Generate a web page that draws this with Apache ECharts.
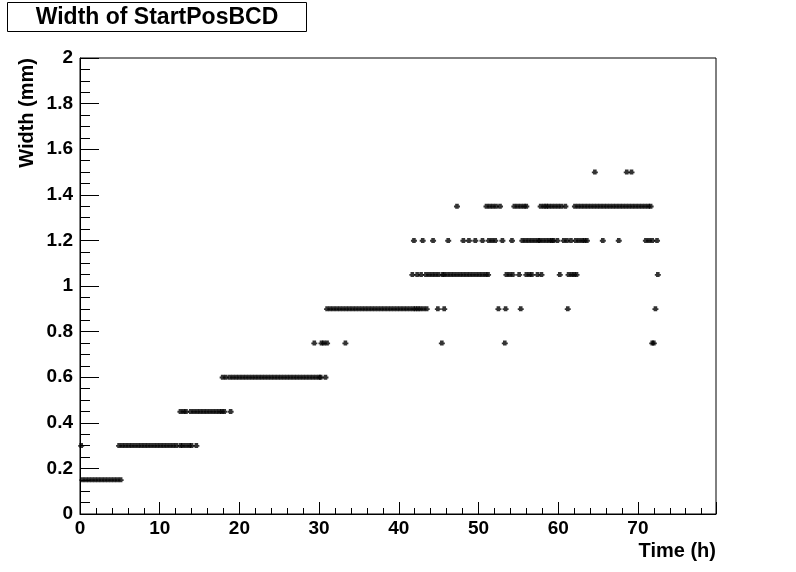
<!DOCTYPE html>
<html>
<head>
<meta charset="utf-8">
<script src="https://cdn.jsdelivr.net/npm/echarts@6/dist/echarts.min.js"></script>
<style>html,body{margin:0;padding:0;background:#fff}#c{width:796px;height:572px}</style>
</head>
<body>
<div id="c"></div>
<script>
// Width levels (mm) and the times (h) at which each level was measured
const levels = [0.15, 0.3, 0.45, 0.6, 0.75, 0.9, 1.05, 1.2, 1.35, 1.5];
const t015 = [0.3,0.7,1.1,1.5,1.9,2.3,2.7,3.1,3.5,3.9,4.3,4.7,5.1];
const t030 = [0.15,4.9,5.3,5.7,6.1,6.5,6.9,7.3,7.7,8.1,8.5,8.9,9.3,9.7,10.1,10.5,10.9,11.3,11.7,12.1,12.6,12.9,13.3,13.7,14.0,14.6];
const t045 = [12.6,13.0,13.3,13.9,14.3,14.7,15.1,15.5,15.9,16.3,16.7,17.1,17.5,17.8,18.1,18.9];
const t060 = [17.9,18.3,18.8,19.2,19.6,20.0,20.4,20.8,21.2,21.6,22.0,22.4,22.8,23.2,23.6,24.0,24.4,24.8,25.2,25.6,26.0,26.4,26.8,27.2,27.6,28.0,28.4,28.8,29.2,29.6,30.0,30.2,30.8];
const t075 = [29.4,30.3,30.6,31.0,33.3,45.4,53.3,71.8,72.0];
const t090 = [31.0,31.4,31.8,32.2,32.6,33.0,33.4,33.8,34.2,34.6,35.0,35.4,35.8,36.2,36.6,37.0,37.4,37.8,38.2,38.6,39.0,39.4,39.8,40.2,40.6,41.0,41.4,41.8,42.1,42.4,42.7,43.1,43.5,44.9,45.7,52.5,53.4,55.3,61.2,72.2];
const t105 = [41.7,42.3,42.8,43.4,43.8,44.2,44.6,45.0,45.5,45.7,46.1,46.5,46.9,47.3,47.7,48.1,48.5,48.9,49.3,49.7,50.1,50.5,50.9,51.2,53.5,53.9,54.3,55.1,56.0,56.4,56.7,57.4,57.9,60.2,61.3,61.7,62.0,62.3,72.5];
const t120 = [41.9,43.0,44.3,46.2,48.1,48.8,49.6,50.5,51.3,51.7,52.1,53.0,54.2,55.5,55.9,56.3,56.7,57.1,57.5,57.7,58.1,58.5,58.9,59.2,59.4,59.9,60.7,61.1,61.6,62.2,62.6,63.0,63.3,63.6,65.6,67.6,71.0,71.4,71.8,72.4];
const t135 = [47.3,51.0,51.4,51.8,52.2,52.7,54.5,54.9,55.3,55.7,56.0,57.8,58.2,58.5,58.8,59.2,59.6,60.0,60.4,60.9,62.1,62.5,62.9,63.3,63.7,64.1,64.5,64.9,65.3,65.7,66.1,66.5,66.9,67.3,67.7,68.1,68.5,68.9,69.3,69.7,70.1,70.5,70.9,71.3,71.6];
const t150 = [64.6,68.6,69.2];
const timesByLevel = [t015, t030, t045, t060, t075, t090, t105, t120, t135, t150];
const xTickLabels = ['0','10','20','30','40','50','60','70'];

const points = [];
timesByLevel.forEach((arr, i) => arr.forEach(t => points.push([t, levels[i]])));

const FONT = 'Liberation Sans';
const chart = echarts.init(document.getElementById('c'), null, {renderer: 'canvas'});
chart.setOption({
  animation: false,
  backgroundColor: '#ffffff',
  grid: {left: 80, right: 80, top: 58, bottom: 58, show: true, borderColor: '#000', borderWidth: 1, backgroundColor: 'transparent'},
  xAxis: {
    type: 'value', min: 0, max: 79.8, interval: 10,
    axisLine: {show: true, onZero: false, lineStyle: {color: '#000', width: 1}},
    axisTick: {show: true, inside: true, length: 12, lineStyle: {color: '#000'}},
    minorTick: {show: true, splitNumber: 5, length: 6, lineStyle: {color: '#000'}},
    splitLine: {show: false},
    axisLabel: {color: '#000', fontFamily: FONT, fontWeight: 'bold', fontSize: 19, margin: 5,
      formatter: v => { const s = String(Math.round(v)); return (Math.abs(v - Math.round(v)) < 1e-6 && xTickLabels.includes(s)) ? s : ''; }}
  },
  yAxis: {
    type: 'value', min: 0, max: 2, interval: 0.2,
    axisLine: {show: true, onZero: false, lineStyle: {color: '#000', width: 1}},
    axisTick: {show: true, inside: true, length: 19, lineStyle: {color: '#000'}},
    minorTick: {show: true, splitNumber: 4, length: 10, lineStyle: {color: '#000'}},
    splitLine: {show: false},
    axisLabel: {color: '#000', fontFamily: FONT, fontWeight: 'bold', fontSize: 19, margin: 7}
  },
  graphic: [
    {type: 'rect', shape: {x: 7.5, y: 2.5, width: 299, height: 29}, style: {fill: '#fff', stroke: '#000', lineWidth: 1}},
    {type: 'text', x: 157, y: 18, style: {text: 'Width of StartPosBCD', font: 'bold 23px "Liberation Sans"', fill: '#000', textAlign: 'center', textVerticalAlign: 'middle'}},
    {type: 'text', x: 716, y: 551, style: {text: 'Time (h)', font: 'bold 20px "Liberation Sans"', fill: '#000', textAlign: 'right', textVerticalAlign: 'middle'}},
    {type: 'text', x: 27, y: 58, rotation: Math.PI / 2, style: {text: 'Width (mm)', font: 'bold 20px "Liberation Sans"', fill: '#000', textAlign: 'right', textVerticalAlign: 'middle'}}
  ],
  series: [{
    type: 'scatter',
    data: points,
    symbol: 'path://M1,0L4,0L4,1.5L5,1.5L5,3L4,3L4,4L1,4L1,3L0,3L0,1.5L1,1.5Z',
    symbolSize: [6, 5],
    itemStyle: {color: '#000'}
  }]
});
</script>
</body>
</html>
